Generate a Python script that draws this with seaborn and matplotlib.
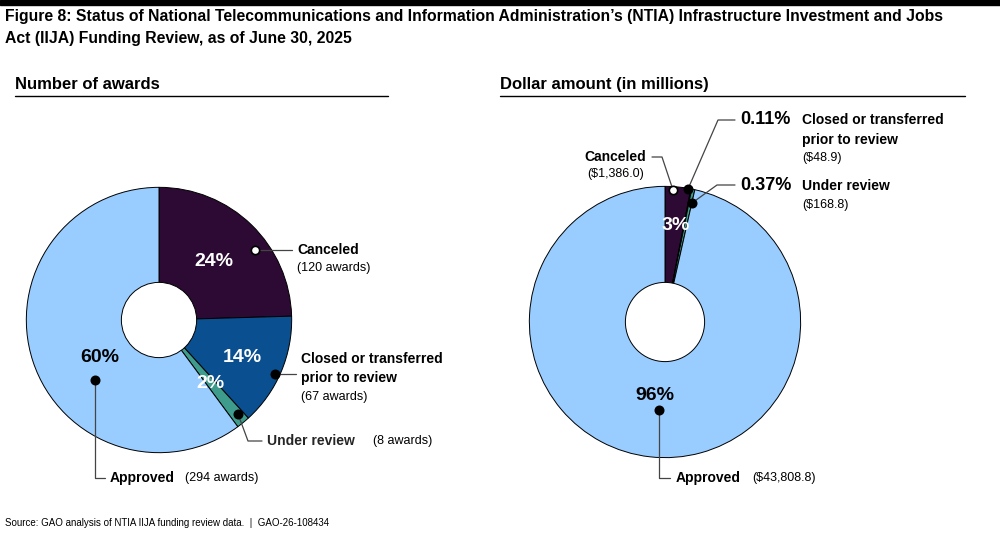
import matplotlib
matplotlib.use("Agg")
import matplotlib.pyplot as plt
import seaborn as sns
from matplotlib.patches import Circle, Rectangle
from matplotlib.lines import Line2D

sns.set_theme(style="white")
plt.rcParams['font.family'] = ['Liberation Sans', 'DejaVu Sans']

categories = ["Canceled", "Closed or transferred prior to review", "Under review", "Approved"]
award_counts = [120, 67, 8, 294]
dollar_millions = [1386.0, 48.9, 168.8, 43808.8]
colors = ["#2d0a33", "#0a4f8f", "#3d9c8c", "#99ccff"]

W, H = 1000, 537
fig = plt.figure(figsize=(10, 5.37), dpi=100)

def fx(x): return x / W
def fy(y): return 1 - y / H

def add_pie(cx, cy, r, hole, values):
    ax = fig.add_axes([fx(cx - r), fy(cy + r), 2 * r / W, 2 * r / H])
    ax.pie(values, colors=colors, startangle=90, counterclock=False,
           wedgeprops=dict(edgecolor="black", linewidth=0.7))
    ax.add_patch(Circle((0, 0), hole / r, facecolor="white", edgecolor="black", lw=0.7, zorder=5))
    ax.set_xlim(-1.01, 1.01); ax.set_ylim(-1.01, 1.01)
    ax.set_aspect("auto"); ax.axis("off")

add_pie(159, 320, 134, 38, award_counts)
add_pie(665, 322, 137, 40, dollar_millions)

def T(x, y, s, **kw):
    kw.setdefault("fontsize", 10)
    kw.setdefault("va", "center")
    fig.text(fx(x), fy(y), s, color=kw.pop("color", "black"), **kw)

def path(pts, dot, filled=True):
    xs = [fx(p[0]) for p in pts]; ys = [fy(p[1]) for p in pts]
    fig.add_artist(Line2D(xs, ys, color="#444444", lw=0.9, transform=fig.transFigure))
    fig.add_artist(Line2D([fx(dot[0])], [fy(dot[1])], marker="o", markersize=6,
                          markerfacecolor="black" if filled else "white",
                          markeredgecolor="black" if filled else "black", mew=1.2,
                          transform=fig.transFigure))

# top bar and title
fig.add_artist(Rectangle((0, fy(5)), 1, 5 / H, color="black", transform=fig.transFigure))
T(5, 16, "Figure 8: Status of National Telecommunications and Information Administration’s (NTIA) Infrastructure Investment and Jobs",
  fontsize=11.3, weight="bold")
T(5, 38, "Act (IIJA) Funding Review, as of June 30, 2025", fontsize=11.3, weight="bold")

# headers
T(15, 84, "Number of awards", fontsize=12, weight="bold")
fig.add_artist(Line2D([fx(15), fx(388)], [fy(96), fy(96)], color="black", lw=1, transform=fig.transFigure))
T(500, 84, "Dollar amount (in millions)", fontsize=12, weight="bold")
fig.add_artist(Line2D([fx(500), fx(965)], [fy(96), fy(96)], color="black", lw=1, transform=fig.transFigure))

# left percentages
T(214, 262, "24%", fontsize=14, weight="bold", color="white", ha="center")
T(242, 357, "14%", fontsize=14, weight="bold", color="white", ha="center")
T(210, 383, "2%", fontsize=14, weight="bold", color="white", ha="center")
T(100, 357, "60%", fontsize=14, weight="bold", ha="center")

# left annotations
path([(255, 250), (292, 250)], (255, 250), filled=False)
T(297, 250, "Canceled", weight="bold")
T(297, 268, "(120 awards)", fontsize=9)
path([(275, 374), (296, 374)], (275, 374))
T(301, 359, "Closed or transferred", weight="bold")
T(301, 378, "prior to review", weight="bold")
T(301, 397, "(67 awards)", fontsize=9)
path([(238, 414), (248, 441), (262, 441)], (238, 414))
fig.text(fx(267), fy(441), "Under review", fontsize=10, weight="bold", va="center")
T(373, 441, "(8 awards)", fontsize=9)
path([(95, 380), (95, 478), (105, 478)], (95, 380))
T(110, 478, "Approved", weight="bold")
T(185, 478, "(294 awards)", fontsize=9)

# right percentages
T(676, 226, "3%", fontsize=14, weight="bold", color="white", ha="center")
T(655, 395, "96%", fontsize=14, weight="bold", ha="center")

# right annotations
path([(652, 157), (662, 157), (673, 190)], (673, 190), filled=False)
T(646, 157, "Canceled", weight="bold", ha="right")
T(644, 174, "($1,386.0)", fontsize=9, ha="right")
path([(735, 120), (718, 120), (688, 189)], (688, 189))
T(740, 120, "0.11%", fontsize=13, weight="bold")
T(802, 120, "Closed or transferred", weight="bold")
T(802, 140, "prior to review", weight="bold")
T(802, 158, "($48.9)", fontsize=9)
path([(735, 185), (717, 185), (692, 203)], (692, 203))
T(740, 185, "0.37%", fontsize=13, weight="bold")
T(802, 186, "Under review", weight="bold")
T(802, 205, "($168.8)", fontsize=9)
path([(659, 410), (659, 478), (670, 478)], (659, 410))
T(676, 478, "Approved", weight="bold")
T(752, 478, "($43,808.8)", fontsize=9)

T(5, 523, "Source: GAO analysis of NTIA IIJA funding review data.  |  GAO-26-108434", fontsize=7)

fig.savefig("out.png", dpi=100, facecolor="white")
